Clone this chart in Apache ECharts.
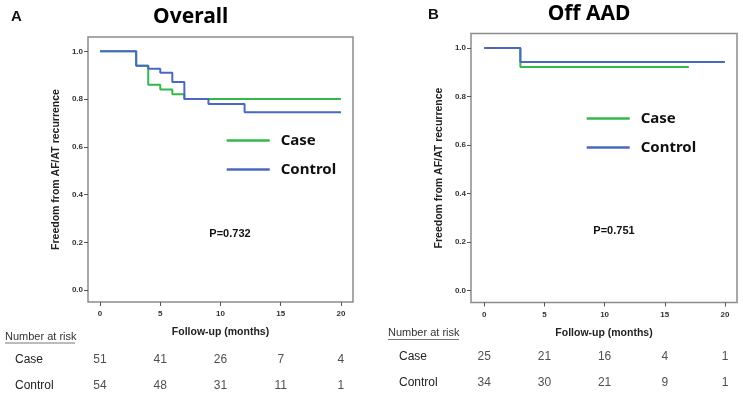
<!DOCTYPE html>
<html>
<head>
<meta charset="utf-8">
<script src="https://cdn.jsdelivr.net/npm/echarts@6/dist/echarts.min.js"></script>
<style>
  html, body { margin: 0; padding: 0; background: #fff; }
</style>
</head>
<body>
<div id="chart" style="width:743px;height:393px;"></div>
<script>
// Kaplan-Meier steps (time in months, survival)
var overallCaseT = [0, 3, 4, 5, 6, 7, 20];
var overallCaseS = [1.0, 0.94, 0.86, 0.84, 0.82, 0.80, 0.80];
var overallCtrlT = [0, 3, 4, 5, 6, 7, 9, 12, 20];
var overallCtrlS = [1.0, 0.94, 0.927, 0.91, 0.872, 0.80, 0.779, 0.745, 0.745];
var offCaseT = [0, 3, 17];
var offCaseS = [1.0, 0.922, 0.922];
var offCtrlT = [0, 3, 20];
var offCtrlS = [1.0, 0.942, 0.942];

// number at risk
var riskTimes = [0, 5, 10, 15, 20];
var riskGroups = ['Case', 'Control'];
var overallRiskCase = [51, 41, 26, 7, 4];
var overallRiskCtrl = [54, 48, 31, 11, 1];
var offRiskCase = [25, 21, 16, 4, 1];
var offRiskCtrl = [34, 30, 21, 9, 1];

var xTicks = [0, 5, 10, 15, 20];
var yTicks = [0, 0.2, 0.4, 0.6, 0.8, 1.0];

var green = '#35b84b';
var blue = '#4a68c2';
var boxGray = '#8c8c8c';
var axisFont = 'Liberation Sans, Arial, sans-serif';

function pairs(t, s) {
  return t.map(function (v, i) { return [v, s[i]]; });
}
function riskData(vals, group) {
  return vals.map(function (v, i) { return [riskTimes[i], group, v]; });
}

var chart = echarts.init(document.getElementById('chart'));

function mainX(idx, min, max) {
  return {
    gridIndex: idx, type: 'value', min: min, max: max,
    axisLine: { show: false, onZero: false },
    splitLine: { show: false },
    axisTick: { show: true, customValues: xTicks, length: 4, inside: false, lineStyle: { color: '#555', width: 1 } },
    axisLabel: { customValues: xTicks, margin: 8, fontSize: 8, fontWeight: 'bold', color: '#333', fontFamily: axisFont },
    name: 'Follow-up (months)', nameLocation: 'middle', nameGap: 25,
    nameTextStyle: { fontSize: 10.5, fontWeight: 'bold', color: '#222', fontFamily: axisFont }
  };
}
function mainY(idx) {
  return {
    gridIndex: idx, type: 'value', min: -0.05, max: 1.06,
    axisLine: { show: false, onZero: false },
    splitLine: { show: false },
    axisTick: { show: true, customValues: yTicks, length: 4, lineStyle: { color: '#555', width: 1 } },
    axisLabel: {
      customValues: yTicks, margin: 5, fontSize: 8, fontWeight: 'bold', color: '#333', fontFamily: axisFont,
      formatter: function (v) { return v.toFixed(1); }
    },
    name: 'Freedom from AF/AT recurrence', nameLocation: 'middle', nameGap: 26,
    nameTextStyle: { fontSize: 10.5, fontWeight: 'bold', color: '#222', fontFamily: axisFont }
  };
}
function tableX(idx, min, max) {
  return { gridIndex: idx, type: 'value', min: min, max: max, show: false };
}
function tableY(idx, margin) {
  return {
    gridIndex: idx, type: 'category', data: riskGroups, inverse: true, boundaryGap: false,
    axisLine: { show: false, onZero: false }, axisTick: { show: false }, splitLine: { show: false },
    axisLabel: { align: 'left', margin: margin, fontSize: 12, color: '#222', fontFamily: axisFont }
  };
}
function stepSeries(name, data, color, xi) {
  return {
    name: name, type: 'line', step: 'end', xAxisIndex: xi, yAxisIndex: xi,
    data: data, showSymbol: false, silent: true,
    lineStyle: { color: color, width: 2 }, itemStyle: { color: color }
  };
}
function riskSeries(data, xi) {
  return {
    type: 'scatter', xAxisIndex: xi, yAxisIndex: xi, data: data,
    symbolSize: 0, silent: true,
    label: {
      show: true, position: 'inside', fontSize: 12, color: '#222', fontFamily: axisFont,
      formatter: function (p) { return String(p.value[2]); }
    }
  };
}
function legendAt(left, top) {
  return {
    left: left, top: top, padding: 0, orient: 'vertical', data: ['Case', 'Control'],
    icon: 'rect', itemWidth: 43, itemHeight: 2.5, itemGap: 14, selectedMode: false,
    textStyle: { fontSize: 15, fontWeight: 'bold', color: '#111', fontFamily: 'Noto Sans, sans-serif', padding: [0, 0, 0, 6] }
  };
}

var option = {
  animation: false,
  grid: [
    { left: 88, top: 37, width: 265, height: 265, show: true, borderColor: boxGray, borderWidth: 1.5, backgroundColor: '#fff' },
    { left: 471, top: 33.5, width: 266, height: 269, show: true, borderColor: boxGray, borderWidth: 1.5, backgroundColor: '#fff' },
    { left: 88, top: 359.3, width: 265, height: 26.4 },
    { left: 471, top: 356.7, width: 266, height: 26 }
  ],
  xAxis: [mainX(0, -1, 21), mainX(1, -1.1, 21), tableX(2, -1, 21), tableX(3, -1.1, 21)],
  yAxis: [mainY(0), mainY(1), tableY(2, 73), tableY(3, 72)],
  legend: [legendAt(226.7, 133), legendAt(586.7, 111)],
  series: [
    stepSeries('Case', pairs(overallCaseT, overallCaseS), green, 0),
    stepSeries('Control', pairs(overallCtrlT, overallCtrlS), blue, 0),
    stepSeries('Case', pairs(offCaseT, offCaseS), green, 1),
    stepSeries('Control', pairs(offCtrlT, offCtrlS), blue, 1),
    riskSeries(riskData(overallRiskCase, 'Case').concat(riskData(overallRiskCtrl, 'Control')), 2),
    riskSeries(riskData(offRiskCase, 'Case').concat(riskData(offRiskCtrl, 'Control')), 3)
  ],
  graphic: [
    { type: 'text', left: 11, top: 9, style: { text: 'A', fontSize: 15, fontWeight: 'bold', fill: '#111', fontFamily: axisFont } },
    { type: 'text', left: 428, top: 7, style: { text: 'B', fontSize: 15, fontWeight: 'bold', fill: '#111', fontFamily: axisFont } },
    { type: 'text', x: 190.7, y: 17, style: { text: 'Overall', fontSize: 21, fontWeight: 'bold', fill: '#000', align: 'center', verticalAlign: 'middle', fontFamily: 'Noto Sans, sans-serif' } },
    { type: 'text', x: 589, y: 14, style: { text: 'Off AAD', fontSize: 21, fontWeight: 'bold', fill: '#000', align: 'center', verticalAlign: 'middle', fontFamily: 'Noto Sans, sans-serif' } },
    { type: 'text', x: 230, y: 234, style: { text: 'P=0.732', fontSize: 11, fontWeight: 'bold', fill: '#111', align: 'center', verticalAlign: 'middle', fontFamily: axisFont } },
    { type: 'text', x: 614, y: 231, style: { text: 'P=0.751', fontSize: 11, fontWeight: 'bold', fill: '#111', align: 'center', verticalAlign: 'middle', fontFamily: axisFont } },
    { type: 'text', x: 5, y: 336.5, style: { text: 'Number at risk', fontSize: 11, fill: '#333', verticalAlign: 'middle', fontFamily: axisFont } },
    { type: 'line', shape: { x1: 5, y1: 343, x2: 75, y2: 343 }, style: { stroke: '#555', lineWidth: 0.8 } },
    { type: 'text', x: 388, y: 333, style: { text: 'Number at risk', fontSize: 11, fill: '#333', verticalAlign: 'middle', fontFamily: axisFont } },
    { type: 'line', shape: { x1: 388, y1: 339.5, x2: 459, y2: 339.5 }, style: { stroke: '#555', lineWidth: 0.8 } }
  ]
};

chart.setOption(option);
window.addEventListener('resize', function () { chart.resize(); });
</script>
</body>
</html>
